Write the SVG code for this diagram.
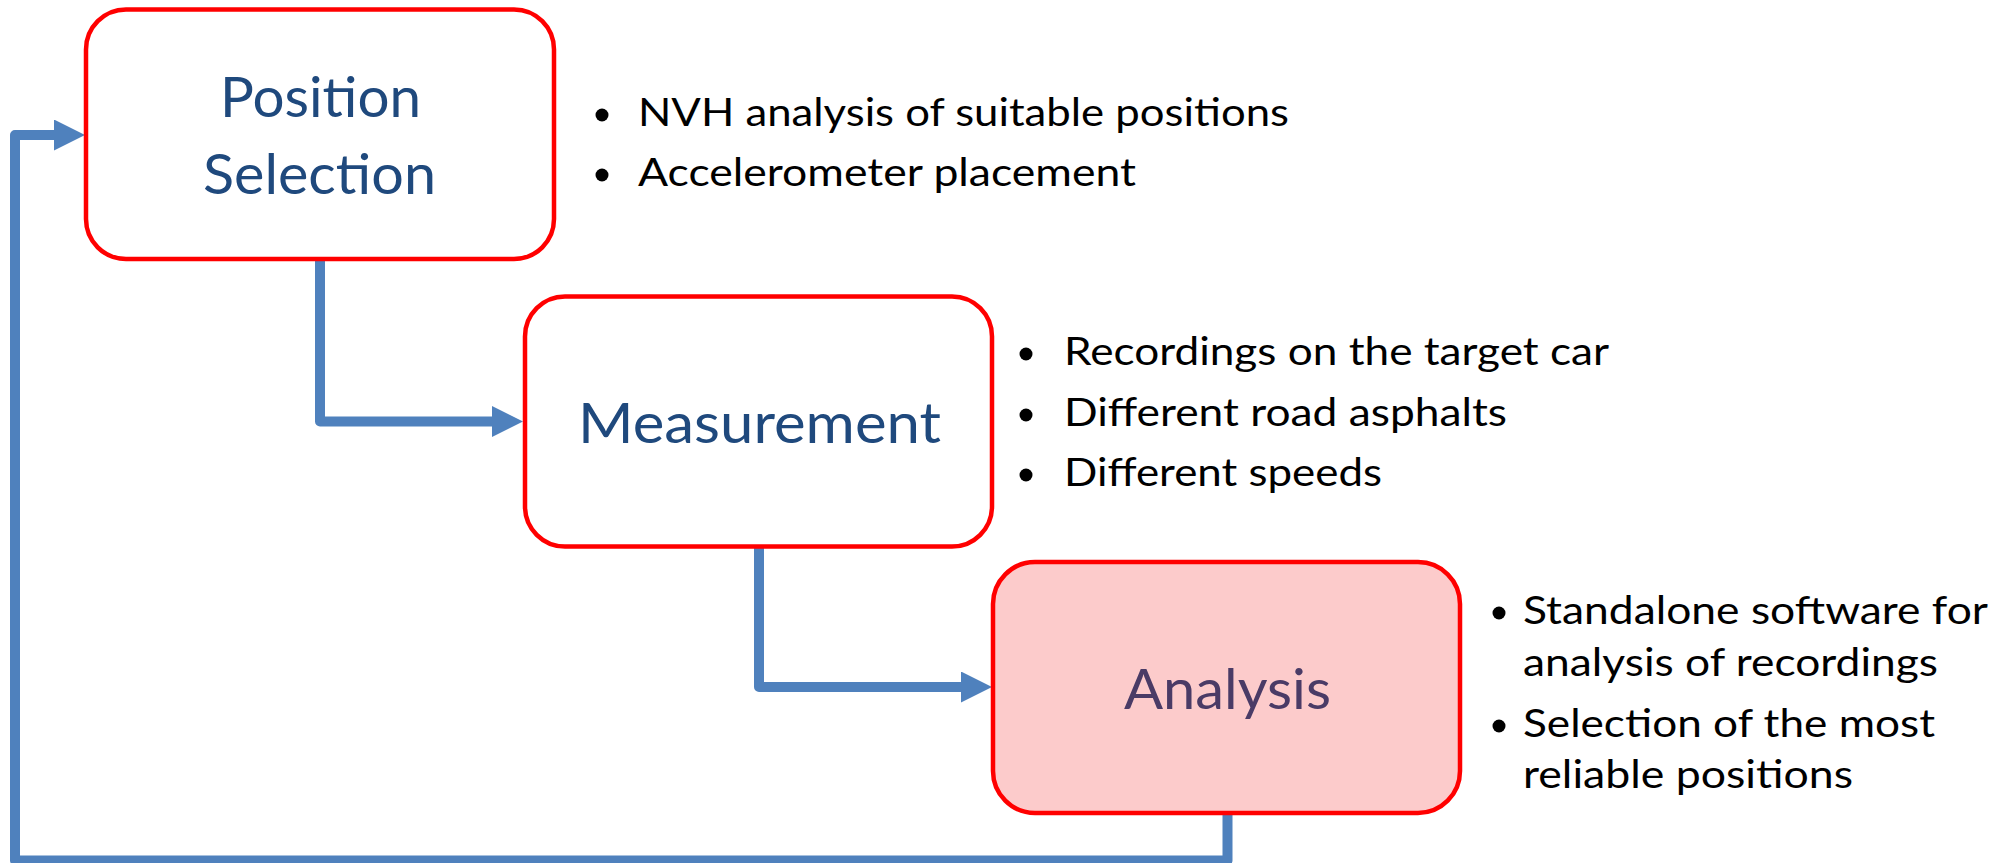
<svg xmlns="http://www.w3.org/2000/svg" width="2006" height="863" viewBox="0 0 2006 863">
<style>
.box{stroke:#FF0000;stroke-width:4.5;}
.plain{fill:#FFFFFF;}
.hl{fill:#FCCBCB;}
.title{font-family:Lato,"Liberation Sans",sans-serif;font-size:57px;fill:#1F497D;}
.title.hlt{fill:#4A3B66;}
.item{font-family:Lato,"Liberation Sans",sans-serif;font-size:39px;fill:#000000;}
.dot{fill:#000000;}
.conn{fill:none;stroke:#4F81BD;stroke-width:10;stroke-linejoin:round;stroke-linecap:butt;}
</style>
<defs>
<marker id="arrow" markerUnits="userSpaceOnUse" markerWidth="31" markerHeight="31" viewBox="0 0 31 31" refX="1" refY="15.5" orient="auto">
<path d="M0,0 L31,15.5 L0,31 Z" fill="#4F81BD"/>
</marker>
</defs>
<rect width="2006" height="863" fill="#FFFFFF"/>
<g id="connectors">
<path class="conn" d="M320,259 V421.5 H493" marker-end="url(#arrow)"/>
<path class="conn" d="M759,546 V687 H962" marker-end="url(#arrow)"/>
<path class="conn" d="M1227.5,813 V860.5 H15 V135 H55" marker-end="url(#arrow)"/>
</g>
<g id="node-position-selection">
<rect class="box plain" x="86" y="9.5" width="468" height="249.5" rx="40" ry="40"/>
<text class="title" x="220" y="117" textLength="201" lengthAdjust="spacingAndGlyphs">Position</text>
<text class="title" x="203" y="194" textLength="233" lengthAdjust="spacingAndGlyphs">Selection</text>
</g>
<g id="node-measurement">
<rect class="box plain" x="525" y="296.5" width="467" height="250" rx="40" ry="40"/>
<text class="title" x="578" y="443" textLength="363" lengthAdjust="spacingAndGlyphs">Measurement</text>
</g>
<g id="node-analysis">
<rect class="box hl" x="993" y="562" width="467" height="251" rx="42" ry="42"/>
<text class="title hlt" x="1124" y="709" textLength="207" lengthAdjust="spacingAndGlyphs">Analysis</text>
</g>
<g id="notes-position-selection">
<circle class="dot" cx="602" cy="115" r="6.5"/>
<text class="item" x="638" y="126" textLength="651" lengthAdjust="spacingAndGlyphs">NVH analysis of suitable positions</text>
<circle class="dot" cx="602" cy="175" r="6.5"/>
<text class="item" x="638" y="186" textLength="498" lengthAdjust="spacingAndGlyphs">Accelerometer placement</text>
</g>
<g id="notes-measurement">
<circle class="dot" cx="1026" cy="354" r="6.5"/>
<text class="item" x="1064" y="365" textLength="545" lengthAdjust="spacingAndGlyphs">Recordings on the target car</text>
<circle class="dot" cx="1026" cy="415" r="6.5"/>
<text class="item" x="1064" y="426" textLength="443" lengthAdjust="spacingAndGlyphs">Different road asphalts</text>
<circle class="dot" cx="1026" cy="475" r="6.5"/>
<text class="item" x="1064" y="486" textLength="318" lengthAdjust="spacingAndGlyphs">Different speeds</text>
</g>
<g id="notes-analysis">
<circle class="dot" cx="1499" cy="613" r="6.5"/>
<text class="item" x="1523" y="624" textLength="465" lengthAdjust="spacingAndGlyphs">Standalone software for</text>
<text class="item" x="1523" y="676" textLength="415" lengthAdjust="spacingAndGlyphs">analysis of recordings</text>
<circle class="dot" cx="1499" cy="726" r="6.5"/>
<text class="item" x="1523" y="737" textLength="412" lengthAdjust="spacingAndGlyphs">Selection of the most</text>
<text class="item" x="1523" y="788" textLength="330" lengthAdjust="spacingAndGlyphs">reliable positions</text>
</g>
</svg>
